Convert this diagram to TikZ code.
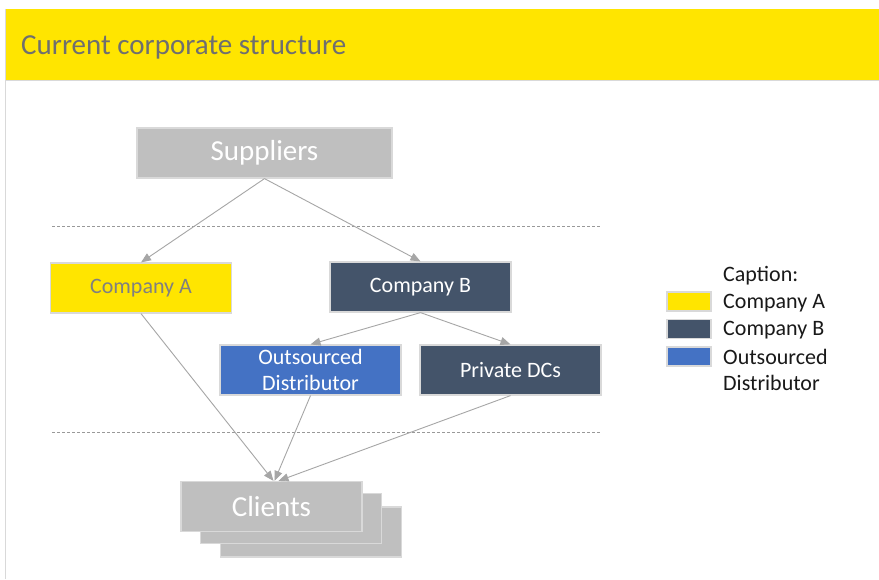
\documentclass[tikz,border=0pt]{standalone}
\usepackage{fontspec}
\setmainfont{Carlito}
\usetikzlibrary{arrows.meta}
\definecolor{bandyellow}{HTML}{FFE500}
\definecolor{slate}{HTML}{44546A}
\definecolor{azure}{HTML}{4472C4}
\definecolor{silver}{HTML}{BFBFBF}
\definecolor{titlegray}{HTML}{6F6F6F}
\definecolor{linkgray}{HTML}{A6A6A6}
\definecolor{edgegray}{HTML}{D9D9D9}
\tikzset{
  box/.style={draw=edgegray, line width=1.2pt, minimum width=181pt, minimum height=50pt,
    inner sep=0pt, align=center, text=white, font=\fontsize{22}{26}\selectfont},
  link/.style={draw=linkgray, line width=0.9pt, -{Triangle[length=10pt,width=8pt]}},
  divider/.style={draw=gray!80, line width=0.8pt, dash pattern=on 3pt off 2pt},
  swatch/.style={draw=edgegray, line width=1.2pt, minimum width=44pt, minimum height=19pt, inner sep=0pt},
  legendtext/.style={anchor=west, inner sep=0pt, font=\fontsize{22}{26}\selectfont, text=black!90}
}
\begin{document}
\begin{tikzpicture}[x=1pt,y=-1pt]
\useasboundingbox (0,0) rectangle (879,579);
\fill[white] (0,0) rectangle (879,579);
% title band
\fill[bandyellow] (5,9) rectangle (879,80);
\draw[edgegray, line width=1pt] (5,80) -- (879,80);
\draw[edgegray, line width=0.8pt] (5,9) -- (5,579);
\node[anchor=west, inner sep=0pt, text=titlegray, font=\fontsize{29}{32}\selectfont] (title) at (21,47) {Current corporate structure};

% level dividers
\coordinate (d1a) at (52,226); \coordinate (d1b) at (600,226);
\coordinate (d2a) at (52,432); \coordinate (d2b) at (600,432);
\draw[divider] (d1a) -- (d1b);
\draw[divider] (d2a) -- (d2b);

% nodes
\node[box, fill=silver, minimum width=255pt, font=\fontsize{29}{32}\selectfont] (sup) at (264.5,153) {\raisebox{-2pt}{Suppliers}};
\node[box, fill=bandyellow, text=gray] (ca) at (141,288) {\raisebox{-1pt}{Company A}};
\node[box, fill=slate] (cb) at (420.5,287) {\raisebox{-1pt}{Company B}};
\node[box, fill=azure] (od) at (310.5,370) {Outsourced\\Distributor};
\node[box, fill=slate] (pdc) at (510.5,370) {\raisebox{-1pt}{Private DCs}};
% stacked clients
\node[box, fill=silver] (cl3) at (311,532) {};
\node[box, fill=silver] (cl2) at (291,518.5) {};
\node[box, fill=silver, font=\fontsize{29}{32}\selectfont] (cl) at (271.5,506.5) {\raisebox{-1pt}{Clients}};

% connectors
\draw[link] (sup.south) -- (ca.north);
\draw[link] (sup.south) -- (cb.north);
\draw[link] (cb.south) -- (od.north);
\draw[link] (cb.south) -- (pdc.north);
\draw[link] (ca.south) -- ([xshift=2pt]cl.north);
\draw[link] (od.south) -- ([xshift=3pt]cl.north);
\draw[link] (pdc.south) -- ([xshift=7pt]cl.north);

% legend
\node[legendtext] (cap) at (723,276) {Caption:};
\node[swatch, fill=bandyellow] (sw1) at (689,301.5) {};
\node[swatch, fill=slate] (sw2) at (689,329) {};
\node[swatch, fill=azure] (sw3) at (689,356.5) {};
\node[legendtext] (l1) at (723,303) {Company A};
\node[legendtext] (l2) at (723,330) {Company B};
\node[legendtext] (l3) at (723,357) {Outsourced};
\node[legendtext] (l4) at (723,383) {Distributor};
\end{tikzpicture}
\end{document}
